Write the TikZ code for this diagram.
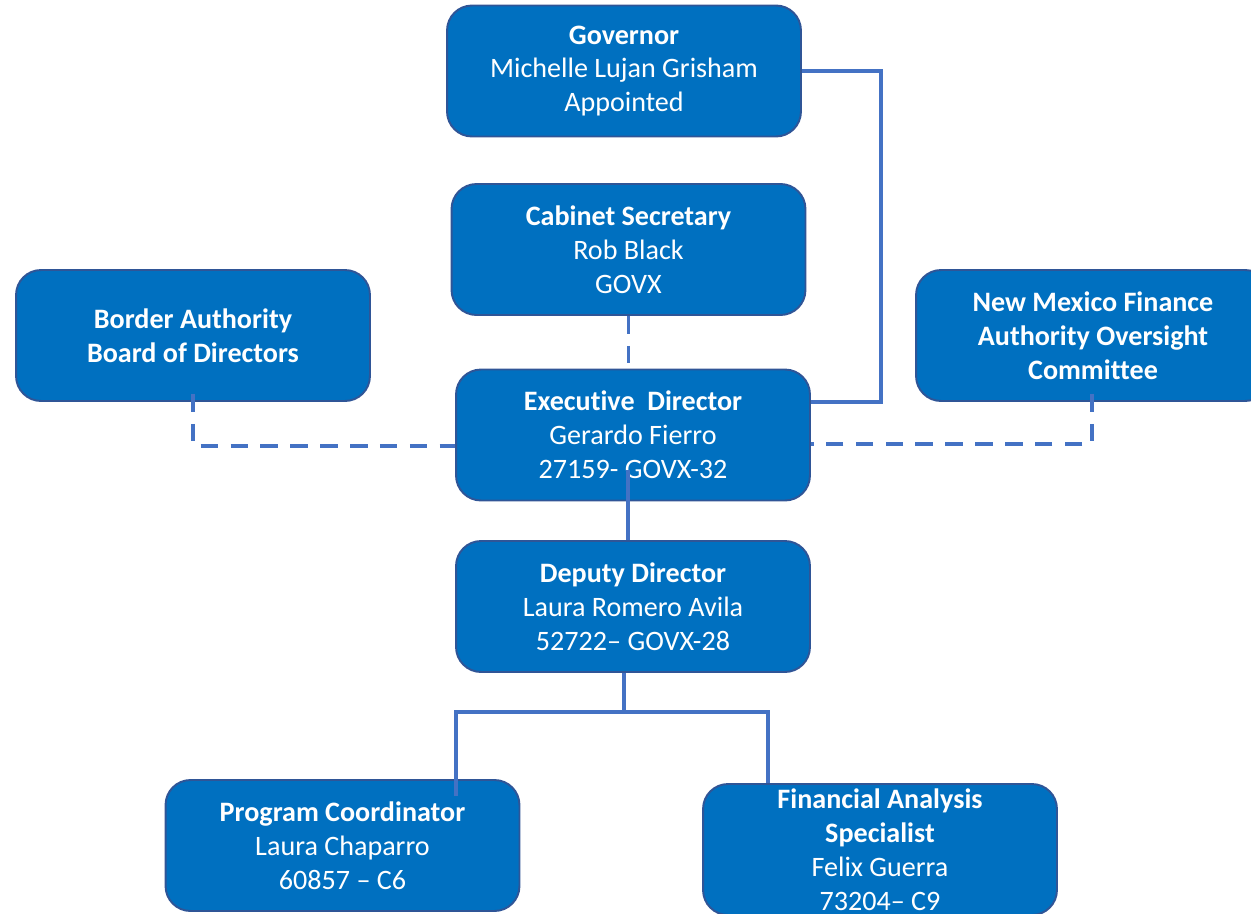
\documentclass[tikz,border=0pt]{standalone}
\usepackage{fontspec}
\setmainfont[Ligatures=NoCommon]{Carlito}
\usetikzlibrary{calc}
\definecolor{boxfill}{HTML}{0070C0}
\definecolor{boxedge}{HTML}{2F5597}
\definecolor{linkcol}{HTML}{4472C4}
\begin{document}
\begin{tikzpicture}[x=0.02cm,y=-0.02cm,
  orgbox/.style={draw=boxedge,fill=boxfill,line width=1.1pt,rounded corners=0.5cm,
    minimum width=7.08cm,minimum height=2.62cm,inner sep=0pt,align=center,
    text=white,font=\fontsize{16}{19.3}\selectfont,
    execute at begin node={\rule{0pt}{16pt}}},
  link/.style={draw=linkcol,line width=1.8pt},
  dottedlink/.style={link,dash pattern=on 10pt off 7pt}]
\useasboundingbox (0,0) rectangle (1251,913);
\clip (0,0) rectangle (1251,913);

% positions
\node[orgbox] (gov) at (624,71) {\textbf{Governor}\\Michelle Lujan Grisham\\Appointed};
\node[orgbox] (cab) at (628.5,249.5) {\textbf{Cabinet Secretary}\\Rob Black\\GOVX};
\node[orgbox] (border) at (193,335.5) {\textbf{Border Authority}\\\textbf{Board of Directors}};
\node[orgbox] (nmfa) at (1093,335.5) {\textbf{New Mexico Finance}\\\textbf{Authority Oversight}\\\textbf{Committee}};
\node[orgbox] (exec) at (633,435) {\textbf{Executive\ \ Director}\\Gerardo Fierro\\27159- GOVX-32};
\node[orgbox] (dep) at (633,606.5) {\textbf{Deputy Director}\\Laura Romero Avila\\52722-- GOVX-28};
\node[orgbox] (prog) at (342.5,845.5) {\textbf{Program Coordinator}\\Laura Chaparro\\60857 -- C6};
\node[orgbox] (fin) at (880,849.5) {\textbf{Financial Analysis}\\\textbf{Specialist}\\Felix Guerra\\73204-- C9};

% reporting lines
\draw[link] (gov.east) -- ++(79,0) |- ($(exec.east)+(0,-33)$);
\draw[dottedlink] (cab.south) -- (cab.south |- exec.north);
\draw[dottedlink] ($(border.south)+(0,-8)$) |- ($(exec.west)+(0,11)$);
\draw[dottedlink] ($(nmfa.south)+(-1,-8)$) |- ($(exec.east)+(0,9)$);
\draw[link] ($(exec.center)+(-5,35)$) -- ($(dep.north)+(-5,0)$);
\coordinate (split) at ($(dep.south)+(-9,39)$);
\draw[link] ($(dep.south)+(-9,0)$) -- (split);
\draw[link] ($(prog.north)+(113.5,17)$) |- (split) -| ($(fin.north)+(-112,0)$);
\end{tikzpicture}
\end{document}
